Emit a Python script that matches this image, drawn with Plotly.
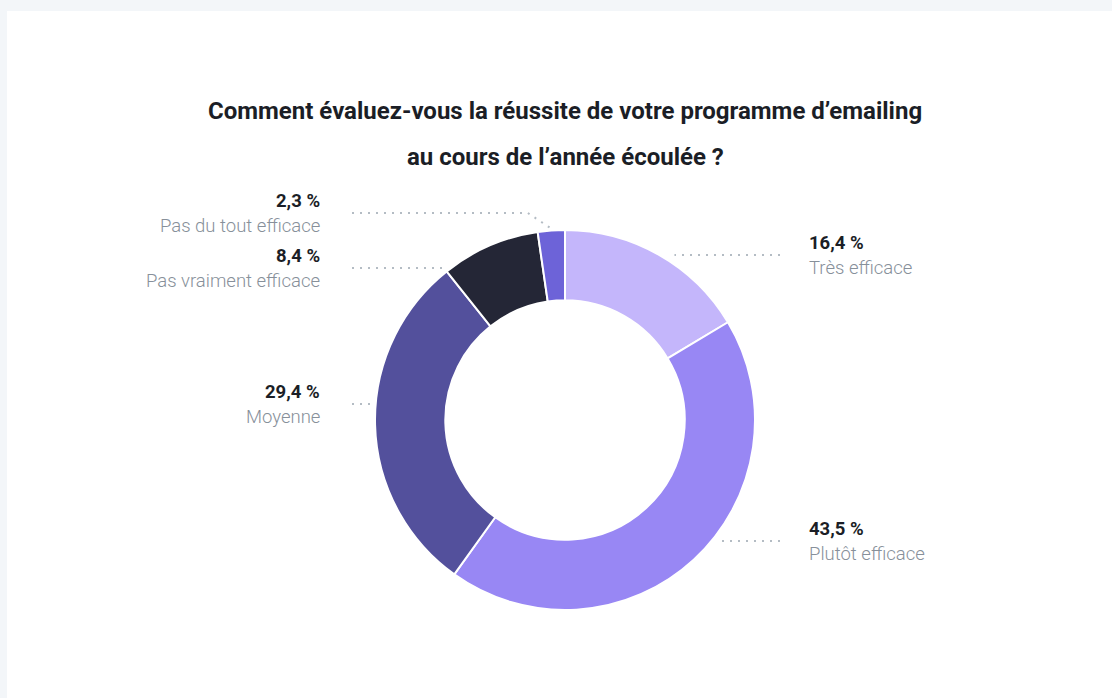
import math
import plotly.graph_objects as go

# Données
categories = ["Très efficace", "Plutôt efficace", "Moyenne",
              "Pas vraiment efficace", "Pas du tout efficace"]
values = [16.4, 43.5, 29.4, 8.4, 2.3]
value_labels = ["16,4 %", "43,5 %", "29,4 %", "8,4 %", "2,3 %"]
colors = ["#c4b6fb", "#9887f4", "#53509c", "#242636", "#6d63d8"]

W, H = 1112, 698
CX, CY, R = 565, 420, 190
HOLE = 0.63

# position verticale (px) de chaque étiquette
label_y = [255, 541, 404, 268, 213]


def px(x):
    return x / W


def py(y):
    return 1 - y / H


fig = go.Figure()
fig.add_trace(go.Pie(
    labels=categories, values=values, sort=False, direction="clockwise",
    rotation=0, hole=HOLE, textinfo="none", hoverinfo="label+percent",
    marker=dict(colors=colors, line=dict(color="white", width=2)),
    domain=dict(x=[px(CX - R), px(CX + R)], y=[py(CY + R), py(CY - R)]),
    showlegend=False,
))

shapes = [dict(type="rect", xref="paper", yref="paper", x0=px(7), x1=1,
               y0=0, y1=py(11), fillcolor="white", line_width=0, layer="below")]
annotations = [
    dict(text="Comment évaluez-vous la réussite de votre programme d’emailing",
         x=px(CX), y=py(111)),
    dict(text="au cours de l’année écoulée ?", x=px(CX), y=py(157)),
]
for a in annotations:
    a.update(xref="paper", yref="paper", showarrow=False,
             xanchor="center", yanchor="middle",
             font=dict(family="Roboto", size=24, color="#1b1e26", weight=700))

total = sum(values)
cum = 0
dot = dict(color="#b4bcc4", width=2, dash="2px,6px")
for cat, v, vl, ly in zip(categories, values, value_labels, label_y):
    ang = math.radians((cum + v / 2) / total * 360)
    cum += v
    right = math.sin(ang) > 0
    sgn = 1 if right else -1
    gap = 8 if right else 4
    lx = 780 if right else 352
    dy = ly - CY
    if abs(dy) < R + gap:
        ex = CX + sgn * math.sqrt((R + gap) ** 2 - dy ** 2)
        pts = [(lx, ly), (ex, ly)]
    else:
        mx = CX + (R + 2) * math.sin(ang)
        my = CY - (R + 2) * math.cos(ang)
        bx = mx + sgn * (my - ly) * 1.5
        pts = [(lx, ly), (bx, ly), (mx, my)]
    for (x0, y0), (x1, y1) in zip(pts[:-1], pts[1:]):
        shapes.append(dict(type="line", xref="paper", yref="paper",
                           x0=px(x0), y0=py(y0), x1=px(x1), y1=py(y1),
                           line=dot, layer="below"))
    tx = 807 if right else 322
    anchor = "left" if right else "right"
    annotations.append(dict(
        text=vl, x=px(tx), y=py(ly - 12), xref="paper", yref="paper",
        xanchor=anchor, yanchor="middle", showarrow=False,
        font=dict(family="Roboto", size=18.5, color="#1b1e26", weight=700)))
    annotations.append(dict(
        text=cat, x=px(tx), y=py(ly + 13), xref="paper", yref="paper",
        xanchor=anchor, yanchor="middle", showarrow=False,
        font=dict(family="Roboto", size=18.5, color="#87909a", weight=300)))

fig.update_layout(
    width=W, height=H, margin=dict(l=0, r=0, t=0, b=0),
    paper_bgcolor="#f3f6f9", plot_bgcolor="white",
    shapes=shapes, annotations=annotations,
)

fig.write_html("out.html", config={"displayModeBar": False},
               post_script="document.body.style.margin='0';")
